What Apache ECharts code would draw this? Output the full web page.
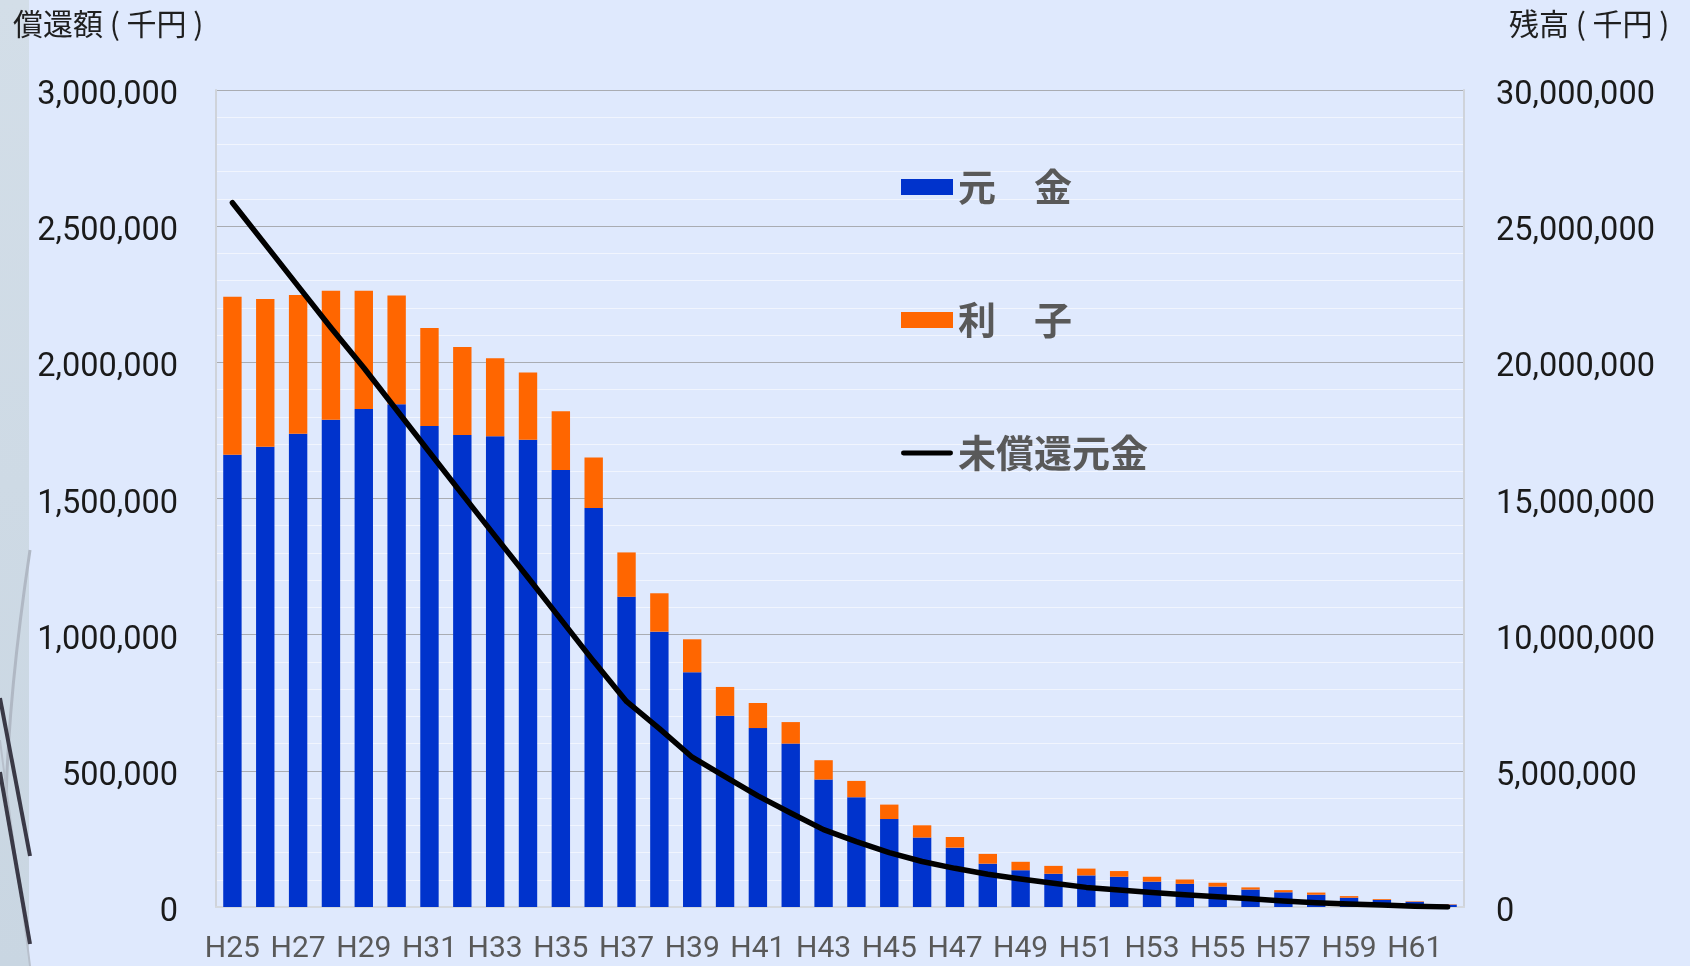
<!DOCTYPE html>
<html>
<head>
<meta charset="utf-8">
<script src="https://cdn.jsdelivr.net/npm/echarts@6/dist/echarts.min.js"></script>
<style>
html,body{margin:0;padding:0;background:#DFE9FD;}
#c{width:1690px;height:966px;}
</style>
</head>
<body>
<div id="c"></div>
<script>
const categories = ['H25','H26','H27','H28','H29','H30','H31','H32','H33','H34','H35','H36','H37','H38','H39','H40','H41','H42','H43','H44','H45','H46','H47','H48','H49','H50','H51','H52','H53','H54','H55','H56','H57','H58','H59','H60','H61','H62'];
const principal = [1661000,1690000,1738000,1789000,1829000,1846000,1766000,1733000,1729000,1716000,1605000,1465000,1139000,1011000,862000,702000,657000,600000,468000,403000,323000,255000,218000,159000,135000,122000,116000,111000,93000,85000,75000,64000,54000,45000,34000,26000,19000,8500];
const interest = [580000,543000,509000,474000,434000,399000,360000,323000,286000,247000,215000,186000,163000,141000,121000,106000,92000,79000,71000,60000,53000,45000,39000,36000,31000,29000,25000,21000,18000,16000,14000,8000,8000,8000,6000,3000,2000,1500];
const balance = [25860000,24330000,22800000,21270000,19800000,18250000,16700000,15150000,13620000,12100000,10560000,9020000,7550000,6550000,5500000,4790000,4080000,3450000,2840000,2400000,2000000,1670000,1420000,1200000,1030000,870000,720000,620000,530000,450000,380000,300000,220000,160000,110000,70000,30000,0];
const leftTicks = {min:0, max:3000000, interval:500000};
const rightTicks = {min:0, max:30000000, interval:5000000};
const names = {principal:'元　金', interest:'利　子', balance:'未償還元金'};
const titles = {left:'償還額 ( 千円 )', right:'残高 ( 千円 )'};

const fmt = v => Number(v).toLocaleString('en-US');
const chart = echarts.init(document.getElementById('c'), null, {renderer:'canvas'});
chart.setOption({
  animation:false,
  backgroundColor:'#DFE9FD',
  graphic:[
    {type:'rect', left:0, top:0, z:-1, shape:{width:29, height:966},
      style:{fill:new echarts.graphic.LinearGradient(0,0,0,1,[{offset:0,color:'#d3dee8'},{offset:1,color:'#c9d6e2'}])}},
    {type:'bezierCurve', z:-1, shape:{x1:30,y1:550,x2:6,y2:800,cpx1:18,cpy1:630,cpx2:8,cpy2:720}, style:{stroke:'#b0b8c4', lineWidth:3, fill:null}},
    {type:'bezierCurve', z:-1, shape:{x1:0,y1:740,x2:30,y2:966,cpx1:10,cpy1:820,cpx2:22,cpy2:900}, style:{stroke:'#b8c0cc', lineWidth:2, fill:null}},
    {type:'line', z:-1, shape:{x1:0,y1:698,x2:30,y2:856}, style:{stroke:'#3a3946', lineWidth:4}},
    {type:'line', z:-1, shape:{x1:0,y1:772,x2:30,y2:944}, style:{stroke:'#3a3946', lineWidth:4}},
    {type:'text', left:13, top:9, style:{text:titles.left, font:'30px "Noto Sans CJK JP"', fill:'#1f1f1f'}},
    {type:'text', left:1509, top:9, style:{text:titles.right, font:'30px "Noto Sans CJK JP"', fill:'#1f1f1f'}}
  ],
  grid:{left:216, right:226, top:90, bottom:59, containLabel:false},
  legend:{
    orient:'vertical', left:901, top:168, padding:0, itemWidth:52, itemHeight:16, itemGap:95,
    textStyle:{fontSize:38, lineHeight:38, fontWeight:'bold', color:'#595959', fontFamily:'"Noto Sans CJK JP"'},
    data:[
      {name:names.principal, icon:'rect'},
      {name:names.interest, icon:'rect'},
      {name:names.balance, icon:'path://M2.5,0 L51.5,0 A2.5,2.5 0 0 1 51.5,5 L2.5,5 A2.5,2.5 0 0 1 2.5,0 Z'}
    ]
  },
  xAxis:{
    type:'category', data:categories,
    axisTick:{show:false},
    axisLine:{show:true, lineStyle:{color:'#d4d8de', width:2}},
    axisLabel:{interval:1, fontSize:30, color:'#595959', margin:27, fontFamily:'Roboto'}
  },
  yAxis:[
    {type:'value', min:leftTicks.min, max:leftTicks.max, interval:leftTicks.interval,
      axisLine:{show:true, lineStyle:{color:'#cfd3da', width:2}},
      axisTick:{show:false},
      axisLabel:{fontSize:32.5, color:'#1a1a1a', margin:38, verticalAlign:'top', lineHeight:12, fontFamily:'Roboto', formatter:fmt},
      splitLine:{show:true, lineStyle:{color:'#a9acb2', width:1}},
      minorTick:{show:false, splitNumber:5},
      minorSplitLine:{show:true, lineStyle:{color:'rgba(255,255,255,0.55)', width:1}}
    },
    {type:'value', position:'right', min:rightTicks.min, max:rightTicks.max, interval:rightTicks.interval,
      axisLine:{show:true, lineStyle:{color:'#cfd3da', width:2}},
      axisTick:{show:false},
      axisLabel:{fontSize:32.5, color:'#1a1a1a', margin:32, verticalAlign:'top', lineHeight:12, fontFamily:'Roboto', formatter:fmt},
      splitLine:{show:false}
    }
  ],
  series:[
    {name:names.principal, type:'bar', stack:'pay', yAxisIndex:0, data:principal, barWidth:'56%',
      itemStyle:{color:'#0033CC'}},
    {name:names.interest, type:'bar', stack:'pay', yAxisIndex:0, data:interest, barWidth:'56%',
      itemStyle:{color:'#FF6600'}},
    {name:names.balance, type:'line', yAxisIndex:1, data:balance, symbol:'none', symbolKeepAspect:true, z:5,
      lineStyle:{color:'#000000', width:5.5, cap:'round', join:'round'}, itemStyle:{color:'#000000'}}
  ]
});
</script>
</body>
</html>
